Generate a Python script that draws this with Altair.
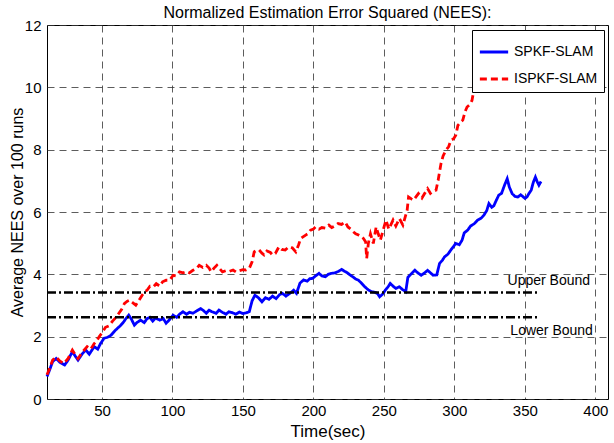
import altair as alt
import pandas as pd

# Average NEES over 100 Monte Carlo runs
spkf_t = [11, 13, 15, 17.5, 20, 23.5, 26, 29, 31, 33, 36, 38.5, 41, 44.5, 47, 49, 51.5, 54, 56.5, 59,
          61, 63, 65, 67, 69, 71, 73, 75, 77.5, 80, 82, 84, 86, 88, 91, 93.5, 95.5, 98, 100.5, 103,
          105, 107.5, 110, 112, 114.5, 117, 120, 122, 124, 126, 128, 131, 133, 135.5, 138, 140, 142.5, 145, 147.5, 150,
          152, 154.5, 156.5, 158.5, 161, 163.5, 166, 168.5, 171, 173.5, 176, 178, 180.5, 183, 186, 188, 190.5, 193, 195.5, 197.5,
          199.5, 201.5, 204, 206, 208.5, 210.5, 212.5, 215.5, 218, 220, 222, 224, 226, 228, 230, 232, 234, 236.5, 239, 241.5,
          244, 245.5, 247, 249, 251, 253, 254.5, 256.5, 258.5, 261, 263, 265.5, 267, 269.5, 272, 274, 276.5, 279, 281, 283,
          285, 287.5, 289.5, 291.5, 293, 295.5, 297.5, 299.5, 301, 303.5, 305.5, 307, 309.5, 311.5, 314, 316.5, 319, 321, 323, 324.5,
          326.5, 328, 330, 331.5, 333.5, 335.5, 337.5, 339, 341, 343, 345, 347, 348.5, 350, 351.5, 353, 354.5, 356, 357.5, 359,
          360, 361.5]
spkf_v = [0.72, 0.95, 1.20, 1.30, 1.18, 1.09, 1.25, 1.52, 1.38, 1.25, 1.45, 1.57, 1.44, 1.68, 1.60, 1.78, 1.95, 1.98, 2.05, 2.18,
          2.27, 2.35, 2.45, 2.58, 2.69, 2.55, 2.37, 2.46, 2.53, 2.45, 2.58, 2.62, 2.50, 2.60, 2.53, 2.58, 2.43, 2.55, 2.69, 2.62,
          2.72, 2.80, 2.72, 2.78, 2.75, 2.82, 2.90, 2.84, 2.75, 2.85, 2.80, 2.75, 2.85, 2.78, 2.72, 2.80, 2.77, 2.72, 2.79, 2.74,
          2.76, 2.80, 3.15, 3.33, 3.25, 3.12, 3.25, 3.20, 3.30, 3.22, 3.35, 3.39, 3.30, 3.38, 3.49, 3.39, 3.72, 3.82, 3.78, 3.86,
          3.87, 3.95, 4.03, 3.95, 3.92, 4.00, 4.03, 4.05, 4.10, 4.16, 4.10, 4.05, 3.98, 3.92, 3.85, 3.81, 3.72, 3.60, 3.50, 3.44,
          3.42, 3.38, 3.28, 3.36, 3.49, 3.60, 3.71, 3.62, 3.55, 3.60, 3.52, 3.44, 3.90, 4.02, 4.13, 4.05, 3.97, 4.05, 4.13, 4.05,
          3.97, 3.98, 4.35, 4.45, 4.56, 4.65, 4.78, 4.90, 4.99, 4.95, 5.10, 5.33, 5.42, 5.55, 5.62, 5.74, 5.80, 5.90, 6.05, 6.27,
          6.15, 6.20, 6.40, 6.54, 6.60, 6.85, 7.07, 6.80, 6.59, 6.50, 6.48, 6.55, 6.50, 6.44, 6.48, 6.60, 6.70, 6.95, 7.12, 6.95,
          6.86, 6.98]

ispkf_t = [11, 13, 15, 17.5, 20, 23, 26, 29, 31, 33, 36, 39.5, 42, 44.5, 46, 48, 50, 52.5, 55, 57.5,
           60, 62, 64, 66, 68, 69.5, 71.5, 74, 76, 78.5, 80.5, 82, 84, 86.5, 88.5, 91, 93, 95.5, 98, 100.5,
           102.5, 105, 107.5, 110, 112, 114.5, 117, 119, 121.5, 124, 126, 127.5, 129.5, 131.5, 133.5, 135.5, 138, 140.5, 143, 145,
           147.5, 150, 152, 154.5, 156.5, 158, 160, 161.5, 163.5, 165, 167, 169.5, 171, 173, 175.5, 177.5, 180, 182.5, 185, 187.5,
           189.5, 191, 194.5, 196, 198, 200, 201.5, 204, 206, 208.5, 211, 213, 215, 217.5, 220, 222.5, 224.5, 226.5, 228.5, 230,
           232, 234, 235.5, 237, 237.8, 239, 240.5, 242.5, 244.5, 246, 247.5, 249.5, 251.5, 253.5, 256.5, 258.5, 261, 263.5, 265.5, 266.5,
           267.5, 269.5, 271, 273, 274.5, 277, 279, 281, 283, 285, 287, 288.5, 290.5, 292, 294, 296, 297.5, 299.5, 301, 302.5,
           304.5, 306, 307.5, 309, 311, 312.5, 314, 316, 318, 320, 321.5, 323, 324.5, 326.5, 328, 330, 332]
ispkf_v = [0.78, 1.00, 1.25, 1.35, 1.22, 1.14, 1.30, 1.57, 1.42, 1.30, 1.50, 1.68, 1.60, 1.78, 1.85, 2.00, 2.12, 2.30, 2.35, 2.50,
           2.62, 2.75, 2.88, 3.07, 3.14, 3.17, 3.10, 3.01, 3.15, 3.33, 3.45, 3.49, 3.62, 3.60, 3.70, 3.62, 3.76, 3.81, 3.81, 3.97,
           3.95, 4.08, 4.05, 4.09, 4.05, 4.13, 4.18, 4.29, 4.22, 4.29, 4.20, 4.08, 4.20, 4.29, 4.18, 4.08, 4.12, 4.10, 4.14, 4.08,
           4.12, 4.15, 4.14, 4.19, 4.40, 4.72, 4.78, 4.78, 4.68, 4.62, 4.75, 4.70, 4.62, 4.67, 4.88, 4.80, 4.78, 4.88, 4.85, 4.72,
           4.95, 5.15, 5.26, 5.30, 5.42, 5.45, 5.52, 5.45, 5.50, 5.48, 5.58, 5.50, 5.55, 5.63, 5.60, 5.68, 5.52, 5.45, 5.36, 5.30,
           5.26, 5.20, 5.15, 5.05, 4.51, 5.00, 5.30, 4.99, 5.52, 5.30, 5.10, 5.42, 5.74, 5.45, 5.74, 5.55, 5.79, 5.58, 5.90, 6.06,
           6.48, 6.42, 6.38, 6.50, 6.59, 6.45, 6.60, 6.75, 6.60, 6.68, 6.70, 7.02, 7.55, 7.80, 7.98, 8.10, 8.30, 8.35, 8.46, 8.78,
           8.89, 8.95, 9.21, 9.37, 9.45, 9.58, 9.96, 9.90, 10.00, 10.15, 10.22, 10.25, 10.33, 10.40, 10.44, 10.60, 10.75]

series_names = ["SPKF-SLAM", "ISPKF-SLAM"]
series_colors = ["#0000ff", "#ff0000"]

# 95% consistency bounds
bound_names = ["Upper Bound", "Lower Bound"]
bound_values = [3.42, 2.62]
bound_span = [11, 359]
bound_label_t = [367, 369]
bound_label_v = [3.79, 2.18]

x_ticks = [50, 100, 150, 200, 250, 300, 350, 400]
y_ticks = [0, 2, 4, 6, 8, 10, 12]

FONT = "Liberation Sans"

curves = pd.concat([
    pd.DataFrame({"t": spkf_t, "v": spkf_v, "method": series_names[0]}),
    pd.DataFrame({"t": ispkf_t, "v": ispkf_v, "method": series_names[1]}),
], ignore_index=True)

bounds = pd.DataFrame([
    {"t": t, "v": v, "bound": name}
    for name, v in zip(bound_names, bound_values)
    for t in bound_span
])
bound_labels = pd.DataFrame({"t": bound_label_t, "v": bound_label_v, "label": bound_names})

x_scale = alt.Scale(domain=[11, 409], nice=False, zero=False)
y_scale = alt.Scale(domain=[0, 12], nice=False)

x_axis = alt.Axis(values=x_ticks, title="Time(sec)", labelPadding=4,
                  titleFontSize=17, titleY=32, titleBaseline="middle")
y_axis = alt.Axis(values=y_ticks, title="Average NEES over 100 runs", labelPadding=6,
                  titleFontSize=16, titleX=-30, titleBaseline="middle", titleAlign="center")

lines = alt.Chart(curves).mark_line(strokeWidth=2.8).encode(
    x=alt.X("t:Q", scale=x_scale, axis=x_axis),
    y=alt.Y("v:Q", scale=y_scale, axis=y_axis),
    color=alt.Color("method:N", scale=alt.Scale(domain=series_names, range=series_colors),
                    legend=alt.Legend(title=None, orient="none", legendX=425, legendY=5)),
    strokeDash=alt.StrokeDash("method:N", scale=alt.Scale(domain=series_names, range=[[1, 0], [7, 4]]),
                              legend=alt.Legend(title=None, orient="none", legendX=425, legendY=5)),
    order=alt.Order("t:Q"),
)

bound_lines = alt.Chart(bounds).mark_line(color="black", strokeWidth=2.5, strokeDash=[9, 3, 2, 3]).encode(
    x="t:Q", y="v:Q", detail="bound:N"
)

bound_text = alt.Chart(bound_labels).mark_text(font=FONT, fontSize=14, color="black").encode(
    x="t:Q", y="v:Q", text="label:N"
)

chart = alt.layer(lines, bound_lines, bound_text).properties(
    width=561, height=374,
    title=alt.TitleParams("Normalized Estimation Error Squared (NEES):", font=FONT, fontSize=16,
                          fontWeight="normal", color="black", anchor="middle", offset=-3),
    autosize=alt.AutoSizeParams(type="none"),
    padding={"left": 47, "top": 25, "right": 6, "bottom": 44},
).configure_view(
    stroke="black", strokeWidth=1
).configure_axis(
    labelFont=FONT, labelFontSize=15, labelColor="black",
    titleFont=FONT, titleFontWeight="normal", titleColor="black",
    grid=True, gridColor="#333333", gridDash=[7, 5], gridWidth=0.8, gridOpacity=1,
    domain=False, ticks=False,
).configure_legend(
    fillColor="white", strokeColor="black", padding=6,
    labelFont=FONT, labelFontSize=14, labelColor="black",
    symbolType="stroke", symbolSize=800, symbolStrokeWidth=3, rowPadding=4,
)

chart.save("out.html", embed_options={"renderer": "svg", "actions": False})
